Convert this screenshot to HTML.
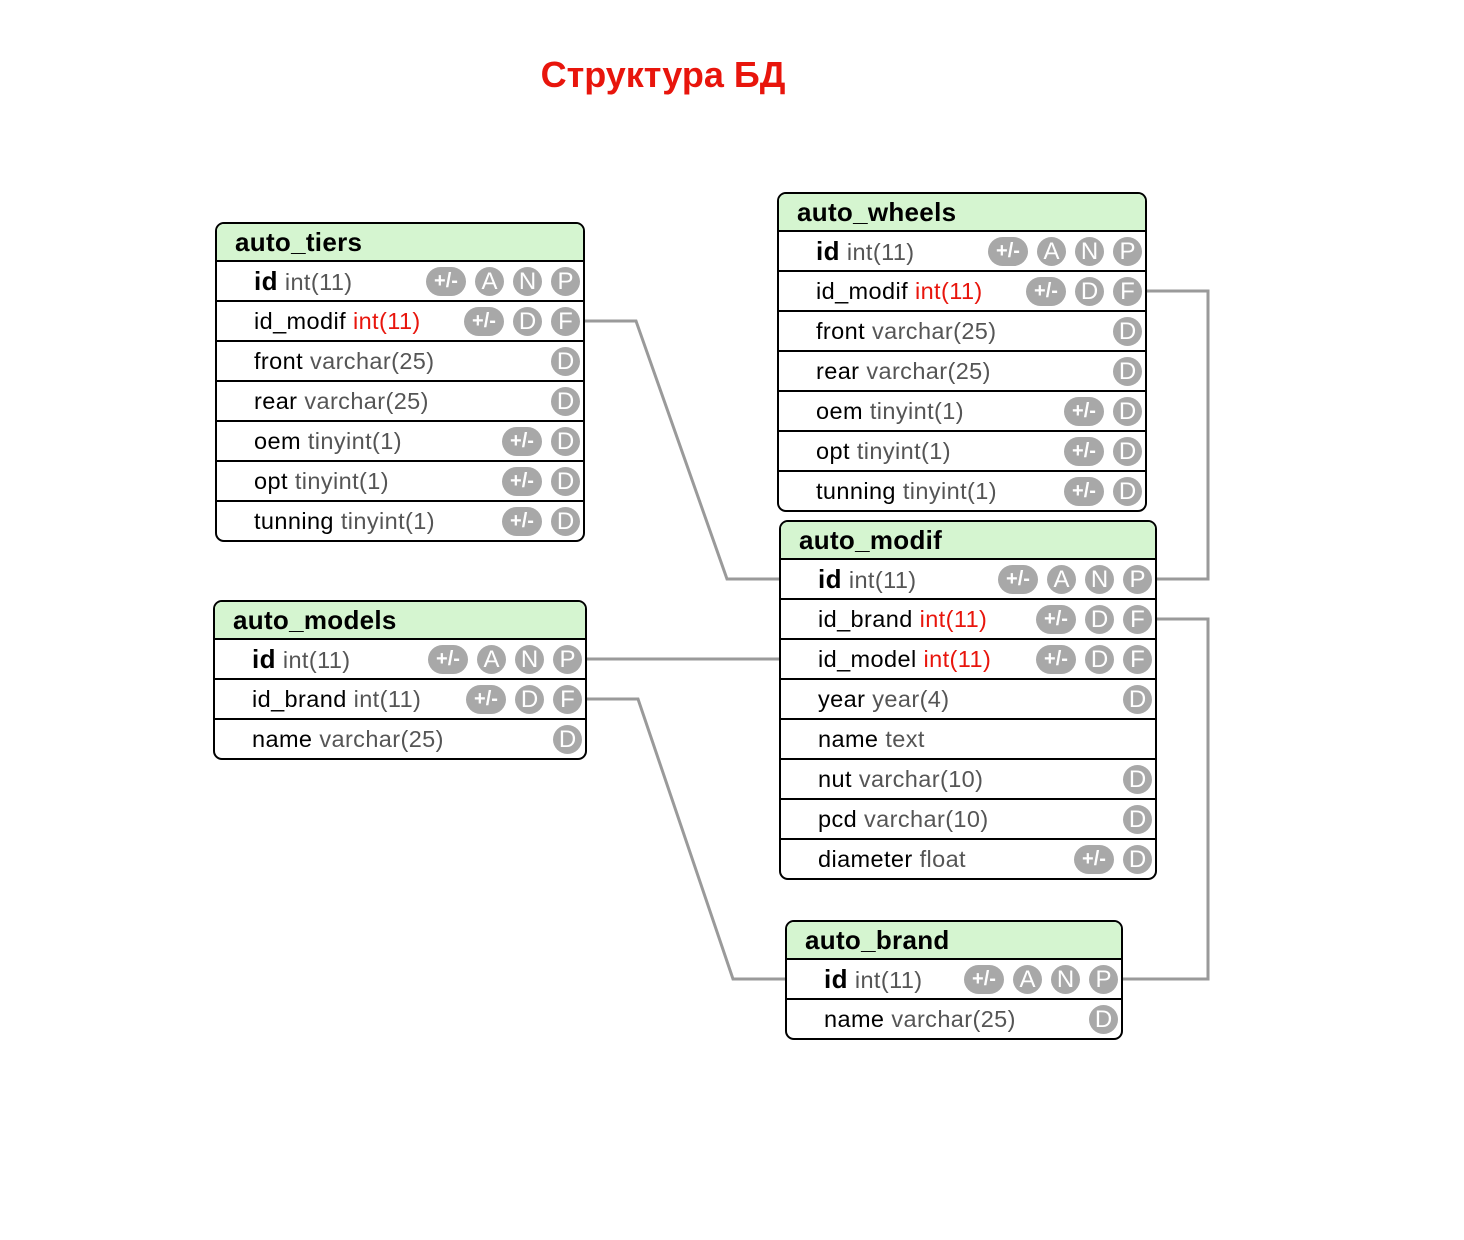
<!DOCTYPE html>
<html><head><meta charset="utf-8"><style>
body{margin:0;width:1464px;height:1240px;background:#fff;position:relative;overflow:hidden;font-family:"Liberation Sans","DejaVu Sans",sans-serif}
.t{position:absolute;border:2px solid #000;border-radius:9px;background:#fff;box-sizing:border-box;overflow:hidden}
.h{height:38px;background:#d5f5d0;border-bottom:2px solid #000;box-sizing:border-box;font-weight:bold;font-size:26px;line-height:36px;padding-left:18px;letter-spacing:0.3px}
.r{height:40px;border-bottom:2px solid #000;box-sizing:border-box;position:relative;font-size:23.5px;letter-spacing:0.4px;line-height:38px;padding-left:37px;white-space:nowrap}
.r:last-child{border-bottom:none}
.ty{color:#555}.red{color:#e8150c}
.b{position:absolute;top:5px;height:29px;width:29px;border-radius:15px;background:#a8a8a8;color:#fff;font-size:24px;line-height:29px;text-align:center;font-weight:normal;letter-spacing:0}
.b.w{width:40px;font-size:20px;font-weight:bold}
.k{font-weight:bold;font-size:26px}
h1{position:absolute;left:0;width:1326px;top:54px;margin:0;text-align:center;color:#e8150c;font-size:36px;font-weight:bold}
</style></head><body>
<h1>Структура БД</h1>
<svg width="1464" height="1240" style="position:absolute;left:0;top:0">
<g fill="none" stroke="#9a9a9a" stroke-width="3">
<polyline points="585,321 636,321 727,579 779,579"/>
<polyline points="1147,291 1208,291 1208,579 1157,579"/>
<polyline points="587,659 779,659"/>
<polyline points="587,699 638,699 733,979 785,979"/>
<polyline points="1157,619 1208,619 1208,979 1123,979"/>
</g></svg>
<div id="c"></div>
<script>
function B(list){let s='',x=3;for(let i=list.length-1;i>=0;i--){const w=list[i]=='+/-';const wd=w?40:29;s+=`<div class="b${w?' w':''}" style="right:${x}px">${list[i]}</div>`;x+=wd+9;}return s;}
const T=[
['auto_tiers',215,222,370,[['<span class="k">id</span>','int(11)',0,['+/-','A','N','P']],['id_modif','int(11)',1,['+/-','D','F']],['front','varchar(25)',0,['D']],['rear','varchar(25)',0,['D']],['oem','tinyint(1)',0,['+/-','D']],['opt','tinyint(1)',0,['+/-','D']],['tunning','tinyint(1)',0,['+/-','D']]]],
['auto_wheels',777,192,370,[['<span class="k">id</span>','int(11)',0,['+/-','A','N','P']],['id_modif','int(11)',1,['+/-','D','F']],['front','varchar(25)',0,['D']],['rear','varchar(25)',0,['D']],['oem','tinyint(1)',0,['+/-','D']],['opt','tinyint(1)',0,['+/-','D']],['tunning','tinyint(1)',0,['+/-','D']]]],
['auto_modif',779,520,378,[['<span class="k">id</span>','int(11)',0,['+/-','A','N','P']],['id_brand','int(11)',1,['+/-','D','F']],['id_model','int(11)',1,['+/-','D','F']],['year','year(4)',0,['D']],['name','text',0,[]],['nut','varchar(10)',0,['D']],['pcd','varchar(10)',0,['D']],['diameter','float',0,['+/-','D']]]],
['auto_models',213,600,374,[['<span class="k">id</span>','int(11)',0,['+/-','A','N','P']],['id_brand','int(11)',0,['+/-','D','F']],['name','varchar(25)',0,['D']]]],
['auto_brand',785,920,338,[['<span class="k">id</span>','int(11)',0,['+/-','A','N','P']],['name','varchar(25)',0,['D']]]]
];
let h='';
for(const [n,x,y,w,rows] of T){h+=`<div class="t" style="left:${x}px;top:${y}px;width:${w}px;height:${40+rows.length*40}px"><div class="h">${n}</div>`;
for(const [a,b,red,bd] of rows){h+=`<div class="r">${a} <span class="${red?'red':'ty'}">${b}</span>${B(bd)}</div>`;}h+='</div>';}
document.getElementById('c').innerHTML=h;
</script>
</body></html>
